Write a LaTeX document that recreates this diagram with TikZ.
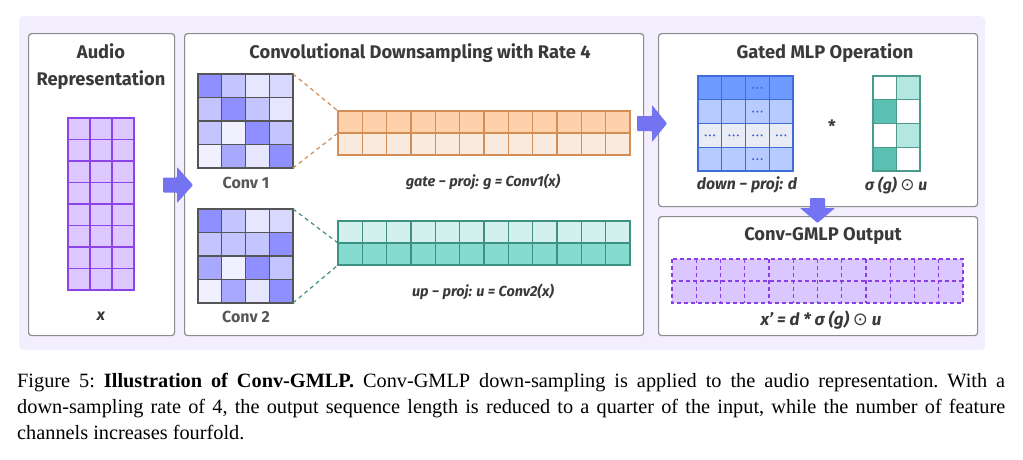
\documentclass[tikz,border=0pt]{standalone}
\usepackage{fontspec}
\setmainfont{Liberation Serif}
\newfontfamily\dfont{Fira Sans}
\newfontfamily\symf{DejaVu Sans}
\usetikzlibrary{calc}
\definecolor{bglav}{HTML}{F3EEFD}
\definecolor{panelborder}{HTML}{8C8C8C}
\definecolor{txt}{HTML}{3A3A3A}
\definecolor{audfill}{HTML}{DCC8FF}
\definecolor{audline}{HTML}{8A44E8}
\definecolor{arrowc}{HTML}{7474F2}
\definecolor{orgA}{HTML}{FFD1AB}
\definecolor{orgB}{HTML}{FAE9DD}
\definecolor{orgL}{HTML}{D38E58}
\definecolor{tealA}{HTML}{D2F0EC}
\definecolor{tealB}{HTML}{86DBD0}
\definecolor{tealL}{HTML}{3D9283}
\definecolor{blueA}{HTML}{6E9BFF}
\definecolor{blueB}{HTML}{B8CBFF}
\definecolor{blueC}{HTML}{E9EBF5}
\definecolor{blueL}{HTML}{3E6CDD}
\definecolor{blueD}{HTML}{3F66D6}
\definecolor{sigT}{HTML}{5BBFB1}
\definecolor{sigL}{HTML}{B3E7E0}
\definecolor{sigB}{HTML}{4A9A8E}
\definecolor{outfill}{HTML}{DBC7FF}
\definecolor{outln}{HTML}{8A3FE6}
\definecolor{gridgray}{HTML}{555555}
\definecolor{ca}{HTML}{8F8FFF}
\definecolor{cb}{HTML}{A8A8FF}
\definecolor{cc}{HTML}{C4C4FF}
\definecolor{cd}{HTML}{D8D8FF}
\definecolor{ce}{HTML}{E6E6FF}
\definecolor{cf}{HTML}{F0F0FF}
\tikzset{
  panel/.style={draw=panelborder, fill=white, line width=1.2pt, rounded corners=3pt, anchor=north west, inner sep=0pt},
  ptitle/.style={font=\dfont\bfseries\fontsize{18.3}{21}\selectfont, text=txt, inner sep=0pt},
  clabel/.style={font=\dfont\bfseries\fontsize{16}{18}\selectfont, text=txt!85, inner sep=0pt},
  mlabel/.style={font=\dfont\bfseries\itshape\fontsize{14.5}{16}\selectfont, text=txt, inner sep=0pt},
  blockarrow/.style={fill=arrowc, draw=none, rounded corners=0.8pt},
  capline/.style={font=\fontsize{20.3}{25}\selectfont, anchor=base west, inner sep=0pt}
}
% x0, y0, ncols, nrows, cell w, cell h, style
\newcommand{\mygrid}[7]{%
  \pgfmathtruncatemacro{\myncm}{#3-1}%
  \pgfmathtruncatemacro{\mynrm}{#4-1}%
  \foreach \k in {1,...,\myncm} {\draw[#7] ({#1+\k*#5},#2) -- ++(0,{#4*#6});}%
  \foreach \k in {1,...,\mynrm} {\draw[#7] (#1,{#2+\k*#6}) -- ++({#3*#5},0);}%
  \draw[#7] (#1,#2) rectangle ++({#3*#5},{#4*#6});%
}
\begin{document}
\begin{tikzpicture}[x=1pt,y=-1pt]
\useasboundingbox (0,0) rectangle (1023,459);
% background
\node[fill=bglav, rounded corners=4pt, minimum width=966pt, minimum height=334pt, anchor=north west, inner sep=0pt] (bg) at (19,16) {};
% panels
\node[panel, minimum width=146pt, minimum height=302pt] (p1) at (28,33) {};
\node[panel, minimum width=459pt, minimum height=302pt] (p2) at (184,33) {};
\node[panel, minimum width=319pt, minimum height=173pt] (p3) at (658,33) {};
\node[panel, minimum width=319pt, minimum height=119pt] (p4) at (658,216) {};
% panel 1
\node[ptitle] (t1a) at (101,51) {Audio};
\node[ptitle] (t1b) at (101,80) {Representation};
\fill[audfill] (68,118) rectangle (134,290);
\mygrid{68}{118}{3}{8}{22}{21.5}{audline, line width=1.3pt}
\node[mlabel, font=\dfont\bfseries\itshape\fontsize{16}{18}\selectfont] (xl) at (101,316) {x};
% arrow 1
\fill[blockarrow] (163,177.5) -- (177,177.5) -- (177,167) -- (193,185) -- (177,203) -- (177,192.5) -- (163,192.5) -- cycle;
% panel 2
\node[ptitle] (t2) at (420,53) {Convolutional Downsampling with Rate 4};
% conv1
\foreach \row/\cols in {0/{ca,cc,ce,cd},1/{cc,ca,cc,ce},2/{cc,cf,ca,cc},3/{cf,cb,ce,ca}}{
  \foreach \col [count=\i from 0] in \cols {
    \fill[\col] (198+\i*23.75, 74+\row*23.5) rectangle ++(23.75,23.5);
  }
}
\mygrid{198}{74}{4}{4}{23.75}{23.5}{gridgray, line width=1.2pt}
\coordinate (c1ne) at (293,74);
\coordinate (c1se) at (293,168);
\node[clabel] (conv1) at (246,183) {Conv 1};
% conv2
\foreach \row/\cols in {0/{ca,cc,ce,cd},1/{cc,cc,cc,ca},2/{cb,cf,ca,cc},3/{cf,cb,ce,ca}}{
  \foreach \col [count=\i from 0] in \cols {
    \fill[\col] (198+\i*23.75, 209+\row*23.5) rectangle ++(23.75,23.5);
  }
}
\mygrid{198}{209}{4}{4}{23.75}{23.5}{gridgray, line width=1.2pt}
\coordinate (c2ne) at (293,209);
\coordinate (c2se) at (293,303);
\node[clabel] (conv2) at (246,317) {Conv 2};
% orange bar
\fill[orgA] (338,111) rectangle (630,133);
\fill[orgB] (338,133) rectangle (630,155);
\mygrid{338}{111}{12}{2}{24.333}{22}{orgL, line width=1.3pt}
\coordinate (obtl) at (338,111);
\coordinate (obml) at (338,133);
\draw[orgL, line width=1.2pt, dash pattern=on 4pt off 3.5pt] (c1ne) -- (obtl);
\draw[orgL, line width=1.2pt, dash pattern=on 4pt off 3.5pt] (c1se) -- (obml);
\node[mlabel] (gate) at (483,182) {gate − proj: g = Conv1(x)};
% teal bar
\fill[tealA] (338,221) rectangle (630,243);
\fill[tealB] (338,243) rectangle (630,265);
\mygrid{338}{221}{12}{2}{24.333}{22}{tealL, line width=1.3pt}
\coordinate (tbml) at (338,243);
\coordinate (tbbl) at (338,265);
\draw[tealL, line width=1.2pt, dash pattern=on 4pt off 3.5pt] (c2ne) -- (tbml);
\draw[tealL, line width=1.2pt, dash pattern=on 4pt off 3.5pt] (c2se) -- (tbbl);
\node[mlabel] (up) at (483,292) {up − proj: u = Conv2(x)};
% arrow 2
\fill[blockarrow] (637,116) -- (652,116) -- (652,105) -- (667,123.5) -- (652,142) -- (652,131) -- (637,131) -- cycle;
% panel 3
\node[ptitle] (t3) at (825,53) {Gated MLP Operation};
\foreach \row/\cols in {0/{blueA,blueA,blueA,blueA},1/{blueB,blueB,blueB,blueB},2/{blueC,blueC,blueC,blueC},3/{blueB,blueB,blueB,blueB}}{
  \foreach \col [count=\i from 0] in \cols {
    \fill[\col] (698+\i*23.75, 76+\row*23.75) rectangle ++(23.75,23.75);
  }
}
\mygrid{698}{76}{4}{4}{23.75}{23.75}{blueL, line width=1.3pt}
\foreach \cx/\cy in {2/0,2/1,0/2,1/2,2/2,3/2,2/3}{
  \foreach \d in {-4.2,0,4.2}{
    \fill[blueD] (698+\cx*23.75+11.875+\d, 76+\cy*23.75+11.875) circle (1.15pt);
  }
}
\node[font=\dfont\bfseries\fontsize{17}{18}\selectfont, text=txt, inner sep=0pt] (star) at (832,126) {*};
\foreach \row/\cols in {0/{white,sigL},1/{sigT,white},2/{white,sigL},3/{sigT,white}}{
  \foreach \col [count=\i from 0] in \cols {
    \fill[\col] (873+\i*23.5, 76+\row*23.75) rectangle ++(23.5,23.75);
  }
}
\mygrid{873}{76}{2}{4}{23.5}{23.75}{sigB, line width=1.3pt}
\node[mlabel, font=\dfont\bfseries\itshape\fontsize{15.8}{18}\selectfont] (down) at (747,185) {down − proj: d};
\node[mlabel, font=\dfont\bfseries\itshape\fontsize{15.8}{18}\selectfont] (sig) at (896,185) {σ (g) {\symf\upshape\mdseries\fontsize{17}{18}\selectfont ⊙} u};
% arrow 3
\fill[blockarrow] (810,198) -- (825,198) -- (825,208) -- (835,208) -- (817.5,223) -- (800,208) -- (810,208) -- cycle;
% panel 4
\node[ptitle] (t4) at (823,236) {Conv-GMLP Output};
\fill[outfill] (672,259) rectangle (963,303);
\mygrid{672}{259}{12}{2}{24.25}{22}{outln, line width=1.3pt, dash pattern=on 4pt off 3pt}
\node[mlabel, font=\dfont\bfseries\itshape\fontsize{17}{19}\selectfont] (xp) at (821,320) {x’ = d * σ (g) {\symf\upshape\mdseries\fontsize{18}{19}\selectfont ⊙} u};
% caption
\node[capline] (cap1) at (17,387) {\frenchspacing\hbox to 988pt{Figure 5: \textbf{Illustration of Conv-GMLP.} Conv-GMLP down-sampling is applied to the audio representation. With a}};
\node[capline] (cap2) at (17,413) {\frenchspacing\hbox to 988pt{down-sampling rate of 4, the output sequence length is reduced to a quarter of the input, while the number of feature}};
\node[capline] (cap3) at (17,439) {channels increases fourfold.};
\end{tikzpicture}
\end{document}
